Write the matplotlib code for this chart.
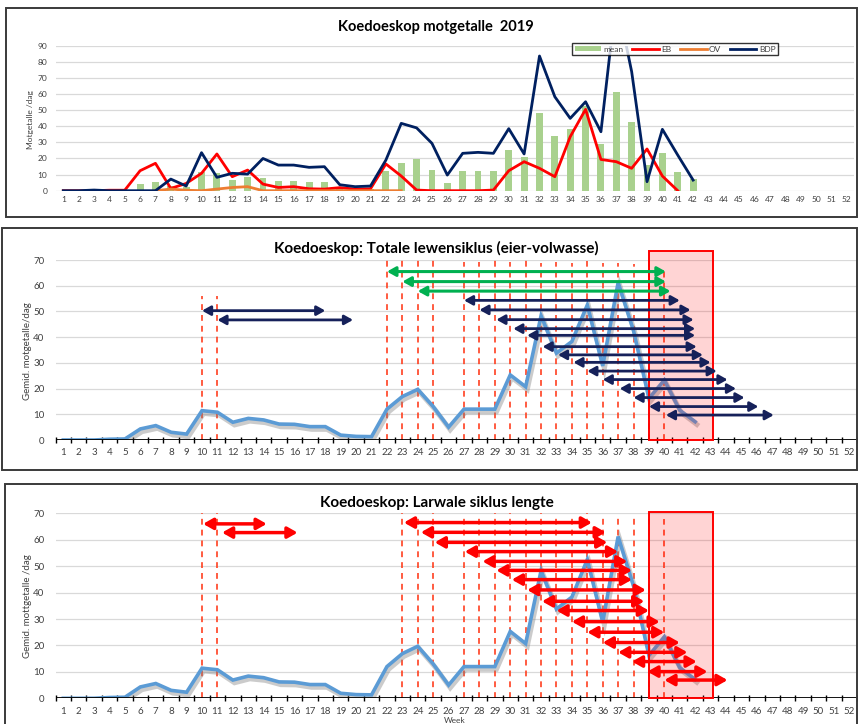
import matplotlib
matplotlib.use('Agg')
import matplotlib.pyplot as plt
from matplotlib.patches import Rectangle
from matplotlib import patheffects as pe

plt.rcParams['font.family'] = ['Lato', 'DejaVu Sans']

# ---------------- data ----------------
weeks = list(range(1, 53))
week_labels = [str(w) for w in weeks]

# weekly mean moth counts (weeks 1-42)
mean_counts = [0, 0, 0, 0.3, 0.4, 4.3, 5.6, 3.0, 2.3, 11.4, 10.8, 6.9, 8.4, 7.8,
               6.2, 6.1, 5.2, 5.2, 1.9, 1.4, 1.3, 12.0, 16.9, 19.7, 13.0, 5.0,
               12.0, 12.0, 12.0, 25.3, 20.7, 48.3, 33.8, 38.3, 52.5, 28.8, 61.2,
               42.5, 16.2, 23.3, 11.6, 7.1]
# EB trap (weeks 1-41)
eb_counts = [0, 0, 0, 0.3, 0.3, 12.4, 17.0, 1.4, 4.5, 10.8, 22.8, 8.7, 12.8, 4.1,
             2.0, 2.5, 1.2, 1.0, 1.9, 1.0, 1.2, 16.6, 9.1, 0.4, 0, 0, 0, 0, 0.4,
             12.4, 18.0, 13.9, 8.7, 33.5, 50.5, 19.4, 18.0, 13.9, 25.9, 9.1, 0]
# OV trap (weeks 7-23)
ov_weeks = list(range(7, 24))
ov_counts = [0, 1.0, 0.3, 0, 1.0, 2.0, 2.5, 0, 0, 0, 0, 0, 0, 0, 0, 0, 0]
# BDP trap (weeks 1-42)
bdp_counts = [0, 0, 0.4, 0, 0, 0, 0, 7.2, 2.9, 23.6, 8.3, 10.8, 10.3, 20.0, 15.9,
              15.9, 14.5, 14.9, 3.7, 2.5, 2.9, 19.0, 41.8, 39.0, 29.4, 9.7, 23.2,
              23.8, 23.2, 38.5, 22.8, 83.6, 58.3, 44.9, 55.2, 36.6, 120.0, 73.9,
              5.6, 38.1, 22.1, 6.6]

# full life cycle (egg-adult) spans
life_green_start = [22, 23, 24]
life_green_end = [40.1, 40.1, 40.4]
life_green_y = [65.5, 61.6, 57.9]
life_navy_start = [10, 11, 27, 28, 29.1, 30.2, 31.1, 32.1, 33.1, 34.1, 35, 36, 37.1, 38, 39, 40.1]
life_navy_end = [18, 19.8, 41.0, 41.7, 41.9, 42.0, 42.0, 42.1, 42.5, 43.0, 43.4, 44.1, 44.65, 45.2, 46.1, 47.1]
life_navy_y = [50.3, 46.7, 54.3, 50.6, 46.8, 43.3, 40.7, 36.3, 33.1, 30.2, 26.8, 23.5, 20.0, 16.5, 13.0, 9.7]
life_marks = [10, 11, 22, 23, 24, 25, 27, 28, 29, 30, 31, 32, 33, 34, 35, 36, 37, 38, 39, 40]
life_mark_tops = [56, 56, 70, 70, 71.6, 70, 69.4, 69.4, 70.4, 69.4, 70.4, 68.7, 69.4,
                  68.7, 69.8, 69, 68.7, 68.5, 70, 67.4]

# larval cycle spans
larva_start = [10.07, 11.3, 23.1, 24.2, 25.1, 27.05, 28.2, 29.1, 30.1, 31.1, 32.06,
               33, 34, 35, 36, 37, 37.9, 38.9, 40]
larva_end = [14.2, 16.2, 35.3, 36.2, 36.3, 37.0, 37.6, 37.9, 37.9, 38.8, 38.7, 39.0,
             39.7, 40.0, 41.0, 41.5, 42.1, 42.8, 44.1]
larva_y = [66, 62.7, 66.5, 62.8, 59, 55.5, 51.8, 48.4, 44.9, 41, 36.7, 33.2, 29,
           25, 21.1, 17.4, 13.9, 10.1, 6.9]
larva_marks = [10, 11, 23, 24, 25, 27, 28, 29, 30, 31, 32, 33, 34, 35, 36, 37, 38, 39, 40]
larva_mark_tops = [70, 70, 70, 69, 70, 69.4, 69.4, 70, 70, 69.4, 70, 69.4, 69.4,
                   70, 69.4, 68.8, 68.8, 70, 68]

# highlighted window
window_start, window_end = 39.03, 43.18
life_window_top = 73.6
larva_window_top = 70.4

# ---------------- styles ----------------
W, H = 858, 724
fig = plt.figure(figsize=(W / 100, H / 100), dpi=100)

GRID = '#d9d9d9'
TXT = '#404040'
NAVY = '#002060'
ARROW_NAVY = '#16215a'
GREEN = '#00b050'
RED = '#ff0000'
DASH = '#ff4020'
LINE_BLUE = '#5b9bd5'


def px_axes(left, right, top, bottom):
    return fig.add_axes([left / W, 1 - bottom / H, (right - left) / W, (bottom - top) / H])


def panel_frame(x0, y0, x1, y1):
    fig.add_artist(Rectangle((x0 / W, 1 - y1 / H), (x1 - x0) / W, (y1 - y0) / H,
                             transform=fig.transFigure, fill=False,
                             edgecolor='#3a3a3a', lw=1.4))


def base_axes(ax, ymax, ystep, tick_fs, ypad):
    ax.set_xlim(0.5, 52.5)
    ax.set_ylim(0, ymax)
    ax.set_xticks(weeks)
    ax.set_xticklabels(week_labels, fontsize=tick_fs, color=TXT)
    ax.set_yticks(range(0, ymax + 1, ystep))
    ax.tick_params(axis='y', length=0, labelsize=tick_fs, colors=TXT, pad=ypad)
    ax.grid(axis='y', color=GRID, lw=0.9, zorder=0)
    ax.set_axisbelow(True)
    for s in ax.spines.values():
        s.set_visible(False)


def mean_line(ax):
    ax.plot(weeks[:len(mean_counts)], mean_counts, color=LINE_BLUE, lw=2.6, zorder=3,
            solid_joinstyle='miter',
            path_effects=[pe.SimpleLineShadow(offset=(1.2, -2.0), shadow_color='#7f7f7f',
                                              alpha=0.4, linewidth=3.5),
                          pe.Normal()])


def arrow(ax, x0, x1, y, color, lw, hl, hw):
    ax.annotate('', xy=(x1, y), xytext=(x0, y),
                arrowprops=dict(arrowstyle=f'<|-|>,head_length={hl},head_width={hw}',
                                color=color, lw=lw, mutation_scale=10,
                                shrinkA=0, shrinkB=0),
                annotation_clip=False, zorder=6)


def cycle_axes(ax):
    ax.axhline(0, color='black', lw=1.3, zorder=4)
    ax.set_xticks([w + 0.5 for w in range(0, 53)], minor=True)
    ax.tick_params(axis='x', which='major', length=0, pad=6)
    ax.tick_params(axis='x', which='minor', length=5, direction='inout',
                   color='black', width=1.0)


# ---------------- top panel: trap counts ----------------
panel_frame(6, 8, 857, 217)
ax1 = px_axes(55.6, 854.4, 45.7, 190.7)
base_axes(ax1, 90, 10, 6, 6)
ax1.tick_params(axis='x', length=0, pad=4)
bars = ax1.bar(weeks[:len(mean_counts)], mean_counts, width=0.45, color='#a9d18e',
               zorder=2, label='mean')
l_eb, = ax1.plot(weeks[:len(eb_counts)], eb_counts, color=RED, lw=2.0, zorder=3, label='EB')
l_ov, = ax1.plot(ov_weeks, ov_counts, color='#ed7d31', lw=2.0, zorder=3, label='OV')
l_bdp, = ax1.plot(weeks[:len(bdp_counts)], bdp_counts, color=NAVY, lw=2.0, zorder=3, label='BDP')
fig.text(435.5 / W, 1 - 27 / H, 'Koedoeskop motgetalle  2019', ha='center',
         va='center', fontsize=10.5, fontweight='bold')
fig.text(30 / W, 1 - 120 / H, 'Motgetalle /dag', rotation=90, ha='center',
         va='center', fontsize=6, color=TXT)
leg = ax1.legend([bars, l_eb, l_ov, l_bdp], ['mean', 'EB', 'OV', 'BDP'],
                 loc='center', bbox_to_anchor=(675 / W, 1 - 49 / H),
                 bbox_transform=fig.transFigure, ncol=4, fontsize=6,
                 frameon=True, fancybox=False, edgecolor='black',
                 handlelength=3.2, handleheight=0.6, handletextpad=0.3,
                 columnspacing=1.0, borderpad=0.35, borderaxespad=0)
leg.get_frame().set_linewidth(1.0)
leg.set_zorder(10)
for t in leg.get_texts():
    t.set_color(TXT)

# ---------------- middle panel: full life cycle ----------------
panel_frame(2, 228, 857, 470)
ax2 = px_axes(55.6, 857, 260, 440)
base_axes(ax2, 70, 10, 7, 8)
cycle_axes(ax2)
mean_line(ax2)
for wk, top in zip(life_marks, life_mark_tops):
    ax2.plot([wk, wk], [0, top], color=DASH, lw=1.2, ls=(0, (3.5, 3)), zorder=2,
             clip_on=False)
ax2.add_patch(Rectangle((window_start, 0), window_end - window_start, life_window_top,
                        facecolor=(1, 0, 0, 0.17), edgecolor=RED, lw=1.4,
                        zorder=5, clip_on=False))
for x0, x1, y in zip(life_green_start, life_green_end, life_green_y):
    arrow(ax2, x0, x1, y, GREEN, 2.2, 0.5, 0.28)
for x0, x1, y in zip(life_navy_start, life_navy_end, life_navy_y):
    arrow(ax2, x0, x1, y, ARROW_NAVY, 2.0, 0.5, 0.28)
fig.text(436 / W, 1 - 248 / H, 'Koedoeskop: Totale lewensiklus (eier-volwasse)',
         ha='center', va='center', fontsize=11, fontweight='bold')
fig.text(28 / W, 1 - 351 / H, 'Gemid. motgetalle/dag', rotation=90, ha='center',
         va='center', fontsize=7, color=TXT)

# ---------------- bottom panel: larval cycle ----------------
panel_frame(5, 484, 857, 730)
ax3 = px_axes(55.6, 857, 513.3, 698.3)
base_axes(ax3, 70, 10, 7, 8)
cycle_axes(ax3)
mean_line(ax3)
for wk, top in zip(larva_marks, larva_mark_tops):
    ax3.plot([wk, wk], [0, top], color=DASH, lw=1.2, ls=(0, (3.5, 3)), zorder=2,
             clip_on=False)
ax3.add_patch(Rectangle((window_start, 0), window_end - window_start, larva_window_top,
                        facecolor=(1, 0, 0, 0.17), edgecolor=RED, lw=1.4,
                        zorder=5, clip_on=False))
for x0, x1, y in zip(larva_start, larva_end, larva_y):
    arrow(ax3, x0, x1, y, RED, 2.5, 0.58, 0.33)
fig.text(437 / W, 1 - 503 / H, 'Koedoeskop: Larwale siklus lengte',
         ha='center', va='center', fontsize=11, fontweight='bold')
fig.text(28 / W, 1 - 606 / H, 'Gemid. mottgetalle /dag', rotation=90, ha='center',
         va='center', fontsize=7, color=TXT)
fig.text(455 / W, 1 - 720.5 / H, 'Week', ha='center', va='center', fontsize=6,
         color=TXT)

fig.savefig('out.png', dpi=100)
